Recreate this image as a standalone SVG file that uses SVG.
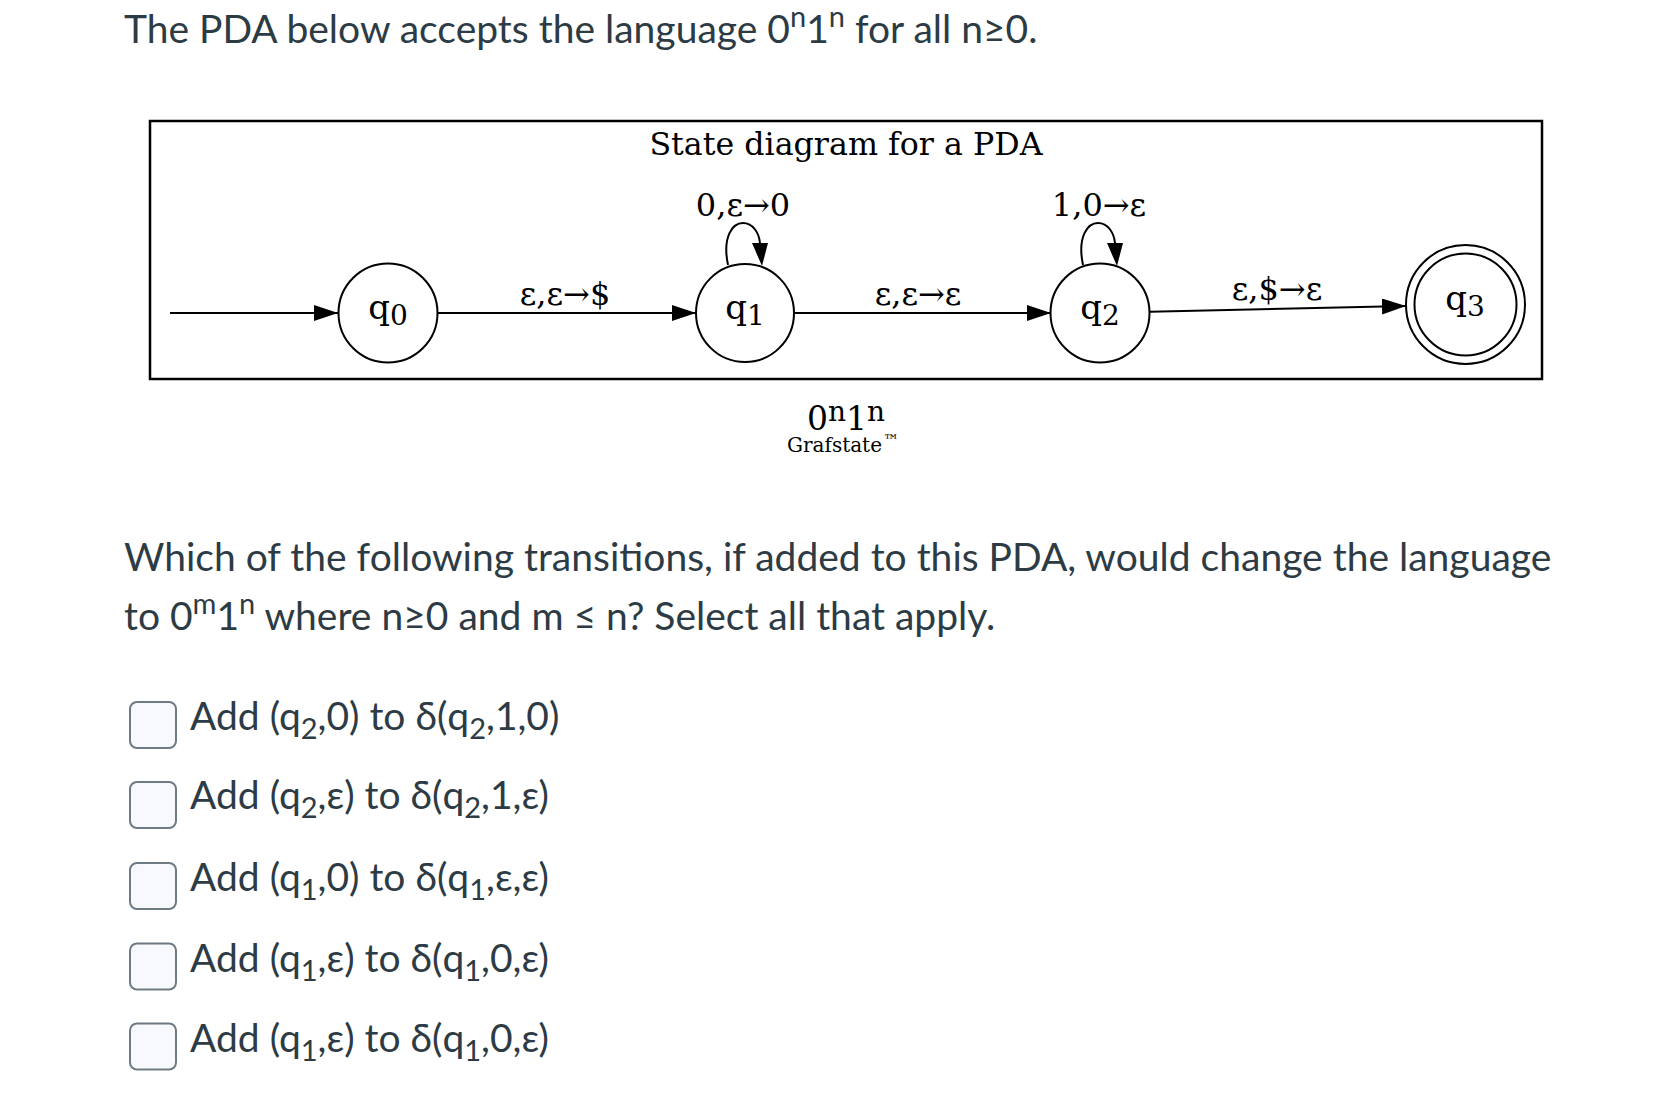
<svg xmlns="http://www.w3.org/2000/svg" width="1670" height="1108" viewBox="0 0 1670 1108">
<style>
.ui{font-family:Lato,"Liberation Sans",sans-serif;fill:#2d3b45;}
.q{font-size:39px;}
.opt{font-size:39px;}
.gv{font-family:"DejaVu Serif","Liberation Serif",serif;fill:#000;}
.lbl{font-size:32px;text-anchor:middle;}
.node{fill:none;stroke:#000;stroke-width:2;}
.edge{fill:none;stroke:#000;stroke-width:2;}
.cb{fill:#f7f9fd;stroke:#6f7b84;stroke-width:2;}
</style>
<defs>
<marker id="ah" viewBox="0 0 24 16" refX="24" refY="8" markerWidth="24" markerHeight="16" markerUnits="userSpaceOnUse" orient="auto">
<path d="M0,0 L24,8 L0,16 Z" fill="#000"/>
</marker>
</defs>
<rect width="1670" height="1108" fill="#fff"/>

<text class="ui q" x="124" y="43">The PDA below accepts the language 0<tspan font-size="29" dy="-16">n</tspan><tspan dy="16">1</tspan><tspan font-size="29" dy="-16">n</tspan><tspan dy="16"> for all n≥0.</tspan></text>

<g id="pda">
<rect x="150" y="121" width="1392" height="258" fill="none" stroke="#000" stroke-width="2.5"/>
<text class="gv" x="846" y="155" font-size="31.7" text-anchor="middle">State diagram for a PDA</text>

<g id="connectors">
<path class="edge" d="M170,313 L338,313" marker-end="url(#ah)"/>
<path class="edge" d="M438,313 L696,313" marker-end="url(#ah)"/>
<path class="edge" d="M794,313 L1051,313" marker-end="url(#ah)"/>
<path class="edge" d="M1150,311.7 L1406,306" marker-end="url(#ah)"/>
<path class="edge" d="M728,265 C722,236 733,223 743,223 C753,223 759,233 760,243"/>
<path d="M752,243 L768,243 L762,266 Z" fill="#000"/>
<path class="edge" d="M1083,265 C1077,236 1088,223 1098,223 C1108,223 1114,233 1115,243"/>
<path d="M1107,243 L1123,243 L1117,266 Z" fill="#000"/>
<text class="gv lbl" x="565" y="305">ε,ε→$</text>
<text class="gv lbl" x="743" y="216">0,ε→0</text>
<text class="gv lbl" x="918" y="305">ε,ε→ε</text>
<text class="gv lbl" x="1099" y="216">1,0→ε</text>
<text class="gv lbl" x="1277" y="300">ε,$→ε</text>
</g>

<g id="q0">
<circle class="node" cx="388" cy="313" r="49.5"/>
<text class="gv" x="388" y="319" font-size="34" text-anchor="middle">q<tspan font-size="28" dy="6">0</tspan></text>
</g>
<g id="q1">
<circle class="node" cx="745" cy="313" r="49"/>
<text class="gv" x="745" y="319" font-size="34" text-anchor="middle">q<tspan font-size="28" dy="6">1</tspan></text>
</g>
<g id="q2">
<circle class="node" cx="1100" cy="313" r="49.5"/>
<text class="gv" x="1100" y="319" font-size="34" text-anchor="middle">q<tspan font-size="28" dy="6">2</tspan></text>
</g>
<g id="q3">
<circle class="node" cx="1465.5" cy="304.5" r="59.5"/>
<circle class="node" cx="1465.5" cy="304.5" r="51"/>
<text class="gv" x="1465" y="310" font-size="34" text-anchor="middle">q<tspan font-size="28" dy="6">3</tspan></text>
</g>

<text class="gv" x="846" y="430" font-size="33" text-anchor="middle">0<tspan font-size="28" dy="-9">n</tspan><tspan dy="9">1</tspan><tspan font-size="28" dy="-9">n</tspan></text>
<text class="gv" x="843" y="452" font-size="20" fill="#333" text-anchor="middle">Grafstate<tspan font-size="16" dx="1" dy="-6">™</tspan></text>
</g>

<text class="ui q" x="124" y="571">Which of the following transitions, if added to this PDA, would change the language</text>
<text class="ui q" x="124" y="630">to 0<tspan font-size="29" dy="-16">m</tspan><tspan dy="16">1</tspan><tspan font-size="29" dy="-16">n</tspan><tspan dy="16"> where n≥0 and m ≤ n? Select all that apply.</tspan></text>

<g id="opt1">
<rect class="cb" x="130" y="702" width="46" height="46" rx="7"/>
<text class="ui opt" x="190" y="730">Add (q<tspan font-size="29" dy="9">2</tspan><tspan dy="-9">,0) to δ(q</tspan><tspan font-size="29" dy="9">2</tspan><tspan dy="-9">,1,0)</tspan></text>
</g>
<g id="opt2">
<rect class="cb" x="130" y="782" width="46" height="46" rx="7"/>
<text class="ui opt" x="190" y="809">Add (q<tspan font-size="29" dy="9">2</tspan><tspan dy="-9">,ε) to δ(q</tspan><tspan font-size="29" dy="9">2</tspan><tspan dy="-9">,1,ε)</tspan></text>
</g>
<g id="opt3">
<rect class="cb" x="130" y="863" width="46" height="46" rx="7"/>
<text class="ui opt" x="190" y="891">Add (q<tspan font-size="29" dy="9">1</tspan><tspan dy="-9">,0) to δ(q</tspan><tspan font-size="29" dy="9">1</tspan><tspan dy="-9">,ε,ε)</tspan></text>
</g>
<g id="opt4">
<rect class="cb" x="130" y="943.5" width="46" height="46" rx="7"/>
<text class="ui opt" x="190" y="972">Add (q<tspan font-size="29" dy="9">1</tspan><tspan dy="-9">,ε) to δ(q</tspan><tspan font-size="29" dy="9">1</tspan><tspan dy="-9">,0,ε)</tspan></text>
</g>
<g id="opt5">
<rect class="cb" x="130" y="1023.5" width="46" height="46" rx="7"/>
<text class="ui opt" x="190" y="1052">Add (q<tspan font-size="29" dy="9">1</tspan><tspan dy="-9">,ε) to δ(q</tspan><tspan font-size="29" dy="9">1</tspan><tspan dy="-9">,0,ε)</tspan></text>
</g>
</svg>
